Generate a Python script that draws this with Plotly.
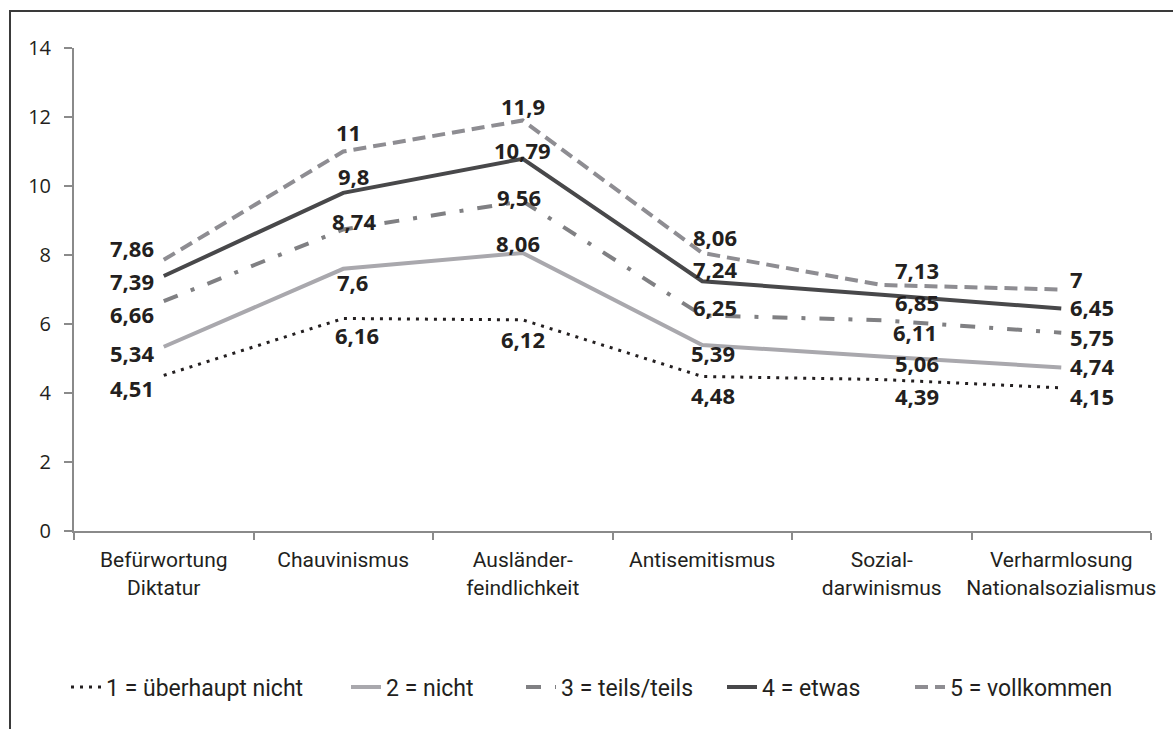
import plotly.graph_objects as go

# Dimensions of right-wing extremist attitudes, by agreement level
categories = ["Befürwortung<br>Diktatur", "Chauvinismus", "Ausländer-<br>feindlichkeit",
              "Antisemitismus", "Sozial-<br>darwinismus", "Verharmlosung<br>Nationalsozialismus"]

series_names = ["1 = überhaupt nicht", "2 = nicht", "3 = teils/teils", "4 = etwas", "5 = vollkommen"]

v1_ueberhaupt_nicht = [4.51, 6.16, 6.12, 4.48, 4.39, 4.15]
v2_nicht = [5.34, 7.60, 8.06, 5.39, 5.06, 4.74]
v3_teils = [6.66, 8.74, 9.56, 6.25, 6.11, 5.75]
v4_etwas = [7.39, 9.80, 10.79, 7.24, 6.85, 6.45]
v5_vollkommen = [7.86, 11.00, 11.90, 8.06, 7.13, 7.00]

y_ticks = [0, 2, 4, 6, 8, 10, 12, 14]

values = [v1_ueberhaupt_nicht, v2_nicht, v3_teils, v4_etwas, v5_vollkommen]

line_styles = [
    dict(color="#231f20", width=3, dash="3px,6px"),
    dict(color="#a9a8ad", width=4),
    dict(color="#808083", width=4, dash="15px,14px,4px,14px"),
    dict(color="#48484a", width=4),
    dict(color="#8e8d92", width=4, dash="13px,7px"),
]

# label offsets in pixels (xshift, yshift) per series and category
label_offsets = [
    [(-8, -13), (14, -17), (0, -19), (11, -19), (35, -16), (7, -8)],
    [(-8, -6), (9, -13), (-5, 10), (11, -8), (35, -7), (7, 1)],
    [(-8, -13), (11, 8), (-4, 4), (13, 8), (33, -12), (7, -4)],
    [(-8, -5), (10, 17), (0, 9), (13, 12), (35, -7), (7, 1)],
    [(-8, 12), (5, 20), (0, 14), (13, 16), (35, 15), (7, 11)],
]

TEXT = "#231f20"
AXIS = "#8a8a8a"
LABEL_FONT = dict(family="Open Sans, Noto Sans, sans-serif", size=22, color=TEXT, weight="bold")
NARROW = "Roboto, sans-serif"

fig = go.Figure()

legend_ids = ["legend", "legend2", "legend3", "legend4", "legend5"]
legend_x_px = [66, 346, 521, 722, 910]

for i, (name, vals) in enumerate(zip(series_names, values)):
    fig.add_trace(go.Scatter(
        x=categories, y=vals, mode="lines", name=name,
        line=line_styles[i], legend=legend_ids[i], hoverinfo="skip",
    ))
    for j, v in enumerate(vals):
        dx, dy = label_offsets[i][j]
        anchor = "right" if j == 0 else ("left" if j == len(vals) - 1 else "center")
        fig.add_annotation(
            x=categories[j], y=v, text=f"{v:g}".replace(".", ","),
            showarrow=False, xanchor=anchor, yanchor="middle",
            xshift=dx, yshift=dy, font=LABEL_FONT,
        )

plot_l, plot_r, plot_t, plot_b = 74, 1151, 48, 531
W, H = 1173, 729
pw, ph = plot_r - plot_l, plot_b - plot_t

def px_x(px):
    return (px - plot_l) / pw

def px_y(py):
    return (plot_b - py) / ph

legend_common = dict(
    orientation="h", yanchor="middle", xanchor="left", y=px_y(687),
    font=dict(family=NARROW, size=23, color=TEXT), bgcolor="rgba(0,0,0,0)",
    itemwidth=30,
)
layout_legends = {}
for lid, lx in zip(legend_ids, legend_x_px):
    layout_legends[lid] = dict(legend_common, x=px_x(lx))

fig.update_layout(
    width=W, height=H,
    margin=dict(l=plot_l, r=W - plot_r, t=plot_t, b=H - plot_b),
    paper_bgcolor="white", plot_bgcolor="white",
    showlegend=True,
    **layout_legends,
    xaxis=dict(
        type="category", range=[-0.5, 5.5], showgrid=False, zeroline=False,
        showline=True, linecolor=AXIS, linewidth=2, tickangle=0,
        ticks="outside", tickson="boundaries", ticklen=7, tickcolor=AXIS, tickwidth=1.5,
        tickfont=dict(family=NARROW, size=21, color=TEXT), ticklabelstandoff=9,
    ),
    yaxis=dict(
        range=[0, 14], tickvals=y_ticks, showgrid=False, zeroline=False,
        showline=True, linecolor=AXIS, linewidth=2,
        ticks="outside", ticklen=8, tickcolor=AXIS, tickwidth=1.5,
        tickfont=dict(family="Open Sans, Noto Sans, sans-serif", size=20, color=TEXT),
        ticklabelstandoff=9,
    ),
    shapes=[dict(
        type="rect", xref="paper", yref="paper",
        x0=px_x(10), x1=px_x(1190), y0=px_y(11), y1=px_y(760),
        line=dict(color="#3a3a3a", width=2), fillcolor="rgba(0,0,0,0)", layer="below",
    )],
)

fig.write_html("out.html")
